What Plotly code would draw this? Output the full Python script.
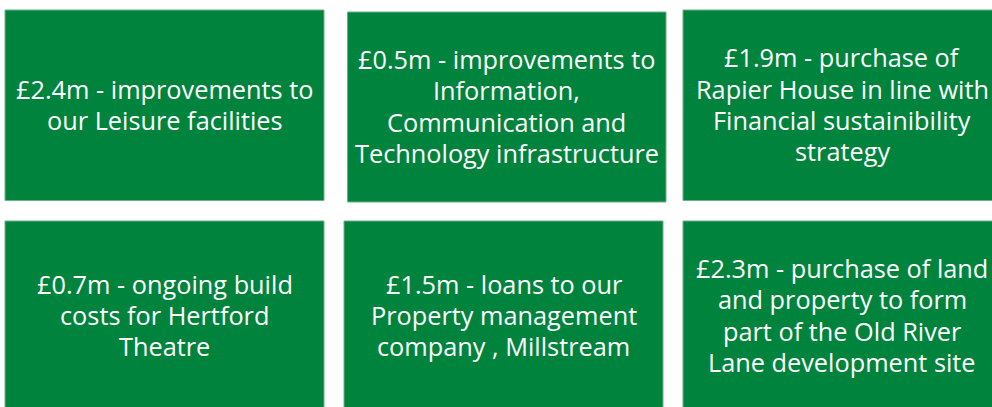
import plotly.graph_objects as go

# Data
amounts = ["£2.4m", "£0.5m", "£1.9m", "£0.7m", "£1.5m", "£2.3m"]
descriptions = [
    ["improvements to", "our Leisure facilities"],
    ["improvements to", "Information,", "Communication and", "Technology infrastructure"],
    ["purchase of", "Rapier House in line with", "Financial sustainibility", "strategy"],
    ["ongoing build", "costs for Hertford", "Theatre"],
    ["loans to our", "Property management", "company , Millstream"],
    ["purchase of land", "and property to form", "part of the Old River", "Lane development site"],
]

# Layout (pixel boxes in page coordinates: x0, x1, y0, y1)
boxes = [
    (5, 324, 10, 200.5),
    (347.5, 666, 12, 202),
    (683, 1001, 10, 200.5),
    (5, 324, 221, 411),
    (344, 663, 221, 411),
    (683, 1001, 221, 411),
]

GREEN = "#00843D"
W, H = 992, 407
LINE = 31.3
FONT = 25.3
TEXT_DY = -1

fig = go.Figure()
shapes = []
annotations = []
for amt, desc, (x0, x1, y0, y1) in zip(amounts, descriptions, boxes):
    shapes.append(dict(type="rect", xref="x", yref="y", x0=x0, x1=x1, y0=y0, y1=y1,
                       fillcolor=GREEN, line=dict(color="#6fae8a", width=1), layer="below"))
    lines = [f"{amt} - {desc[0]}"] + desc[1:]
    n = len(lines)
    cx, cy = (x0 + x1) / 2, (y0 + y1) / 2 + TEXT_DY
    for i, ln in enumerate(lines):
        annotations.append(dict(xref="x", yref="y", x=cx, y=cy + (i - (n - 1) / 2) * LINE,
                                text=ln, showarrow=False, align="center",
                                xanchor="center", yanchor="middle",
                                font=dict(family="Open Sans", size=FONT, color="white")))

fig.add_trace(go.Scatter(x=[0, W], y=[0, H], mode="markers", marker=dict(opacity=0),
                         hoverinfo="skip", showlegend=False))
fig.update_layout(
    width=W, height=H, margin=dict(l=0, r=0, t=0, b=0),
    paper_bgcolor="white", plot_bgcolor="white",
    shapes=shapes, annotations=annotations, showlegend=False,
    xaxis=dict(range=[0, W], visible=False, fixedrange=True),
    yaxis=dict(range=[H, 0], visible=False, fixedrange=True),
)
fig.write_html("out.html", config={"displayModeBar": False},
               post_script="document.body.style.margin='0';document.body.style.overflow='hidden';")
